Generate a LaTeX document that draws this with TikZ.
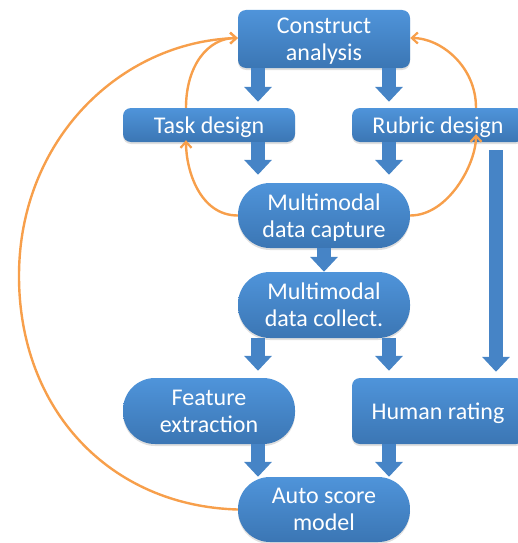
\documentclass[tikz,border=0pt]{standalone}
\usepackage{fontspec}
\setmainfont{Carlito}
\usetikzlibrary{arrows.meta,shadows,calc}
\definecolor{boxtop}{HTML}{4F94DA}
\definecolor{boxbot}{HTML}{3B76B4}
\definecolor{arrblue}{HTML}{4684C6}
\definecolor{orangec}{HTML}{F79F4B}
\begin{document}
\begin{tikzpicture}[x=1pt,y=-1pt,
  box/.style={draw=none,top color=boxtop,bottom color=boxbot,text=white,
    minimum width=172pt,align=center,inner sep=0pt,text depth=0pt,
    font=\fontsize{24}{27}\selectfont,
    drop shadow={opacity=0.25,shadow xshift=0pt,shadow yshift=-2pt}},
  rbox/.style={box,rounded corners=8pt},
  pill/.style={box,rounded corners=32pt},
  blk/.style={draw=arrblue,line width=14pt,
    -{Triangle[width=27pt,length=15pt]},arrblue},
  fb/.style={draw=orangec,line width=2.4pt,-{Straight Barb[length=6pt,width=11pt,line width=2.2pt]}},
  fbline/.style={draw=orangec,line width=2.4pt}]
\useasboundingbox (0,0) rectangle (518,543);
\node[rbox,minimum height=58pt] (ca) at (324,39) {Construct\\analysis};
\node[rbox,minimum height=34pt] (td) at (209,125) {Task design};
\node[rbox,minimum height=34pt] (rd) at (438,125) {Rubric design};
\node[pill,minimum height=65pt] (mc) at (324,215.5) {Multimodal\\data capture};
\node[pill,minimum height=66pt] (mo) at (324,305) {Multimodal\\data collect.};
\node[pill,minimum height=66pt] (fe) at (209,411) {Feature\\extraction};
\node[rbox,minimum height=66pt] (hr) at (438,411) {Human rating};
\node[pill,minimum height=65pt] (as) at (324,509.5) {Auto score\\model};
% block arrows
\draw[blk,shorten >=6pt] ([xshift=-66pt]ca.south) -- ([xshift=-66pt]ca.south |- td.north);
\draw[blk,shorten >=6pt] ([xshift=65pt]ca.south) -- ([xshift=65pt]ca.south |- rd.north);
\draw[blk,shorten >=8pt] ([xshift=-66pt]ca.south |- td.south) -- ([xshift=-66pt]ca.south |- mc.north);
\draw[blk,shorten >=8pt] ([xshift=65pt]ca.south |- rd.south) -- ([xshift=65pt]ca.south |- mc.north);
\draw[blk] (mc.south) -- (mo.north);
\draw[blk,shorten >=7pt] ([xshift=-66pt]mo.south) -- ([xshift=-66pt]mo.south |- fe.north);
\draw[blk,shorten >=7pt] ([xshift=65pt]mo.south) -- ([xshift=65pt]mo.south |- hr.north);
\draw[blk] ([xshift=-66pt]mo.south |- fe.south) -- ([xshift=-66pt]mo.south |- as.north);
\draw[blk] ([xshift=65pt]mo.south |- hr.south) -- ([xshift=65pt]mo.south |- as.north);
\coordinate (lt) at ([xshift=58pt,yshift=-8pt]rd.south);
\draw[blk,shorten >=6pt] (lt) -- (lt |- hr.north);
% orange feedback arrows
\draw[fb] ([xshift=-23pt]td.north) .. controls +(0,-42) and +(-30,0) .. ([yshift=1pt]ca.west);
\draw[fb] (mc.west) .. controls +(-38,0) and +(0,30) .. ([xshift=-23pt,yshift=2pt]td.south);
\draw[fb] ([xshift=38pt]rd.north) .. controls +(0,-42) and +(30,0) .. ([yshift=1pt]ca.east);
\draw[fb] (mc.east) .. controls +(38,0) and +(0,30) .. ([xshift=38pt,yshift=8pt]rd.south);
\coordinate (lp) at (19,276);
\draw[fbline] (as.west) .. controls (110,506) and (19,410) .. (lp);
\draw[fb] (lp) .. controls (19,140) and (120,42) .. ([yshift=1pt]ca.west);
\end{tikzpicture}
\end{document}
